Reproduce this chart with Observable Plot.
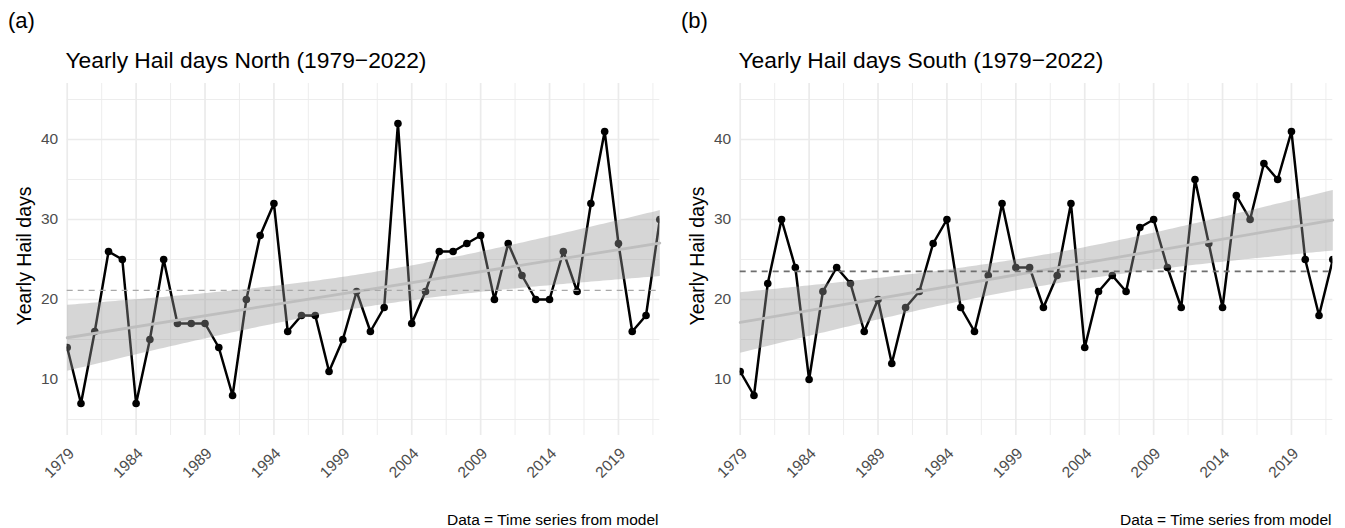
<!DOCTYPE html>
<html><head><meta charset="utf-8">
<script src="https://cdn.jsdelivr.net/npm/d3@7"></script>
<script src="https://cdn.jsdelivr.net/npm/@observablehq/plot@0.6"></script>
<style>
body{margin:0;background:#fff;font-family:"Liberation Sans",Arial,sans-serif;}
#wrap{position:relative;width:1345px;height:528px;overflow:hidden;background:#fff}
.panel{position:absolute;top:0;width:672px;height:528px}
.panel svg{position:absolute;left:0;top:0}
.t{position:absolute;white-space:nowrap;line-height:1;color:#000}
</style></head><body><div id="wrap"></div>
<script>
const years = [1979,1980,1981,1982,1983,1984,1985,1986,1987,1988,1989,1990,1991,1992,1993,1994,1995,1996,1997,1998,1999,2000,2001,2002,2003,2004,2005,2006,2007,2008,2009,2010,2011,2012,2013,2014,2015,2016,2017,2018,2019,2020,2021,2022];
const north = [14,7,16,26,25,7,15,25,17,17,17,14,8,20,28,32,16,18,18,11,15,21,16,19,42,17,21,26,26,27,28,20,27,23,20,20,26,21,32,41,27,16,18,30];
const south = [11,8,22,30,24,10,21,24,22,16,20,12,19,21,27,30,19,16,23,32,24,24,19,23,32,14,21,23,21,29,30,24,19,35,27,19,33,30,37,35,41,25,18,25];
const xTicks = [1979,1984,1989,1994,1999,2004,2009,2014,2019];
const xMinor = [1981.5,1986.5,1991.5,1996.5,2001.5,2006.5,2011.5,2016.5,2021.5];
const yTicks = [10,20,30,40];
const yMinor = [5,15,25,35,45];
const tags = ["(a)","(b)"];
const titles = ["Yearly Hail days North (1979−2022)","Yearly Hail days South (1979−2022)"];
const yLabel = "Yearly Hail days";
const caption = "Data = Time series from model";
const series = [north, south];
const meanColors = ["#a8a8a8","#6e6e6e"];
const meanWidths = [1.3,1.7];
const offsets = [0,673];

const wrap = document.getElementById("wrap");
series.forEach((vals, k) => {
  const panel = document.createElement("div");
  panel.className = "panel";
  panel.style.left = offsets[k] + "px";
  wrap.appendChild(panel);
  const data = years.map((year, i) => ({year, value: vals[i]}));
  const mean = d3.mean(vals);
  const svg = Plot.plot({
    width: 672, height: 528,
    marginTop: 83, marginBottom: 93, marginLeft: 66.7, marginRight: 12.7,
    x: {domain: [1979, 2022], axis: null},
    y: {domain: [3, 47], axis: null},
    style: {fontFamily: "Liberation Sans, Arial, sans-serif", background: "transparent", overflow: "visible"},
    marks: [
      Plot.ruleX(xMinor, {stroke: "#ebebeb", strokeWidth: 0.9}),
      Plot.ruleY(yMinor, {stroke: "#ebebeb", strokeWidth: 0.9}),
      Plot.ruleX(xTicks, {stroke: "#ebebeb", strokeWidth: 1.7}),
      Plot.ruleY(yTicks, {stroke: "#ebebeb", strokeWidth: 1.7}),
      Plot.axisY(yTicks, {tickSize: 0, tickPadding: 9, fontSize: 15.5, fill: "#4d4d4d", label: null}),
      Plot.text(xTicks, {x: d => d, frameAnchor: "bottom", text: d => String(d), rotate: -45, textAnchor: "end", lineAnchor: "top", dy: 11, fontSize: 15.5, fill: "#4d4d4d"}),
      Plot.line(data, {x: "year", y: "value", stroke: "#000", strokeWidth: 2.5, clip: "frame"}),
      Plot.dot(data, {x: "year", y: "value", r: 3.8, fill: "#000", stroke: "none", clip: "frame"}),
      Plot.linearRegressionY(data, {x: "year", y: "value", stroke: "#bebebe", strokeWidth: 2.8, fill: "#999999", fillOpacity: 0.4, ci: 0.95}),
      Plot.ruleY([mean], {stroke: meanColors[k], strokeWidth: meanWidths[k], strokeDasharray: "6,5"})
    ]
  });
  panel.appendChild(svg);
  const add = (text, css) => {
    const d = document.createElement("div");
    d.className = "t";
    d.textContent = text;
    Object.assign(d.style, css);
    panel.appendChild(d);
  };
  add(tags[k], {left: "8px", top: "10.4px", fontSize: "22px"});
  add(titles[k], {left: "65.5px", top: "48.5px", fontSize: "22.8px"});
  add(yLabel, {left: "15px", top: "256px", fontSize: "19.5px", transformOrigin: "0 0", transform: "rotate(-90deg) translate(-50%,0)"});
  add(caption, {right: "13.5px", top: "511.9px", fontSize: "15.5px", textAlign: "right"});
});
</script></body></html>
